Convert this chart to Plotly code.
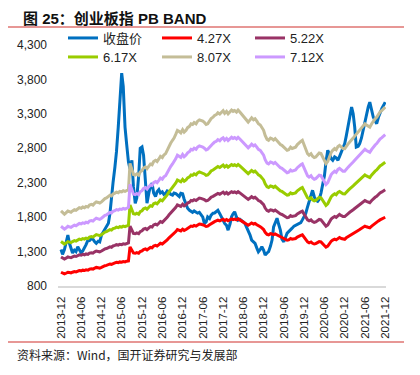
import plotly.graph_objects as go

# ---- data (semi-monthly: 1st and 15th of each month, 2013-12-01 .. 2021-12-01) ----
close = [
    1330, 1260, 1330, 1420, 1540, 1420, 1360, 1280, 1320, 1300, 1370, 1330,
    1280, 1310, 1350, 1400, 1467, 1460, 1491, 1480, 1442, 1420, 1450, 1440,
    1540, 1580, 1610, 1660, 1710, 1850, 2100, 2300, 2529, 2750, 3108, 3500,
    3891, 3700, 3108, 2870, 2600, 2500, 2626, 2239, 2000, 2080, 2400, 2800,
    2819, 2700, 2350, 2003, 2150, 2250, 2292, 2150, 2100, 2168, 2200, 2150,
    2168, 2130, 2147, 2180, 2168, 2130, 2119, 2150, 2143, 2119, 2100, 2147,
    2140, 2060, 2000, 1930, 1900, 1880, 1870, 1890, 1877, 1858, 1870, 1840,
    1800, 1708, 1730, 1804, 1780, 1830, 1858, 1860, 1880, 1900, 1850, 1804,
    1760, 1708, 1680, 1611, 1700, 1804, 1850, 1877, 1800, 1756, 1770, 1756,
    1730, 1708, 1650, 1611, 1540, 1467, 1440, 1419, 1350, 1297, 1330, 1370,
    1320, 1249, 1280, 1300, 1380, 1467, 1659, 1720, 1785, 1700, 1611, 1480,
    1442, 1500, 1568, 1590, 1611, 1640, 1670, 1684, 1690, 1708, 1720, 1760,
    1804, 1850, 1949, 2020, 2120, 2190, 2100, 2046, 2030, 2060, 2150, 2250,
    2400, 2600, 2771, 2720, 2650, 2626, 2674, 2660, 2626, 2680, 2750, 2790,
    2868, 2980, 3108, 3250, 3398, 3300, 3108, 2819, 2830, 2868, 2950, 3060,
    3150, 3302, 3400, 3471, 3350, 3253, 3200, 3157, 3250, 3326, 3380, 3420,
    3471,
]

# 4.27X PB band line
band_427 = [
    1000, 990, 975, 985, 1000, 995, 990, 1000, 1010, 1005, 1015, 1025,
    1020, 1030, 1025, 1035, 1030, 1045, 1050, 1045, 1060, 1070, 1065, 1060,
    1070, 1085, 1095, 1100, 1110, 1120, 1115, 1130, 1136, 1145, 1140, 1150,
    1146, 1155, 1150, 1160, 1165, 1366, 1320, 1280, 1275, 1285, 1275, 1300,
    1310, 1330, 1338, 1325, 1345, 1360, 1355, 1380, 1389, 1380, 1400, 1420,
    1410, 1430, 1441, 1470, 1500, 1520, 1543, 1560, 1590, 1619, 1610, 1600,
    1625, 1606, 1620, 1640, 1650, 1670, 1665, 1680, 1670, 1690, 1700, 1696,
    1690, 1680, 1665, 1670, 1690, 1710, 1720, 1734, 1740, 1755, 1745, 1760,
    1770, 1750, 1765, 1747, 1760, 1775, 1765, 1772, 1760, 1775, 1760, 1747,
    1730, 1710, 1700, 1683, 1700, 1715, 1700, 1708, 1690, 1670, 1660, 1644,
    1620, 1580, 1550, 1543, 1560, 1555, 1545, 1556, 1540, 1520, 1510, 1504,
    1490, 1475, 1466, 1470, 1490, 1480, 1485, 1490, 1510, 1525, 1535, 1543,
    1510, 1470, 1440, 1428, 1440, 1420, 1410, 1415, 1430, 1445, 1441, 1420,
    1390, 1364, 1380, 1420, 1450, 1466, 1480, 1470, 1495, 1504, 1490, 1480,
    1479, 1500, 1515, 1530, 1543, 1560, 1575, 1590, 1606, 1620, 1640, 1655,
    1670, 1660, 1650, 1644, 1670, 1690, 1708, 1720, 1745, 1760, 1772, 1785,
    1798,
]

multiples = [4.27, 5.22, 6.17, 8.07, 7.12]
band_names = ["4.27X", "5.22X", "6.17X", "8.07X", "7.12X"]
band_colors = ["#FF0000", "#993366", "#99CC00", "#C4BD97", "#CC99FF"]

y_ticks = [800, 1300, 1800, 2300, 2800, 3300, 3800, 4300]

dates = []
for yr in range(2013, 2022):
    for mo in range(1, 13):
        if (yr, mo) < (2013, 12):
            continue
        for d in (1, 15):
            dates.append(f"{yr}-{mo:02d}-{d:02d}")
dates = dates[:len(close)]
assert len(close) == len(band_427) == len(dates)

# the page places the figure 8px in from the window's top-left corner
OFF = 8
W, H = 420 - OFF, 375 - OFF
# plot area in window pixels: x 58..386, y 45..286
L, R, T, B = 58 - OFF, 420 - 386, 45 - OFF, 375 - 286
pw, ph = W - L - R, H - T - B


def px(x):  # window pixel -> paper x
    return (x - OFF - L) / pw


def py(y):  # window pixel -> paper y
    return (H - B - (y - OFF)) / ph


FONT = "Liberation Sans, Arial, Noto Sans CJK SC"

fig = go.Figure()
fig.add_trace(go.Scatter(x=dates, y=close, mode="lines", name="收盘价",
                         line=dict(color="#0070C0", width=3), legend="legend"))

legend_pos = {
    "收盘价": (63, 38),
    "4.27X": (157, 38),
    "5.22X": (250, 38),
    "6.17X": (63, 57),
    "8.07X": (157, 57),
    "7.12X": (250, 57),
}
legend_ids = ["legend2", "legend3", "legend4", "legend5", "legend6"]
for m, name, col, lid in zip(multiples, band_names, band_colors, legend_ids):
    vals = [v * m / 4.27 for v in band_427]
    fig.add_trace(go.Scatter(x=dates, y=vals, mode="lines", name=name,
                             line=dict(color=col, width=3), legend=lid))

legend_common = dict(orientation="h", xanchor="left", yanchor="middle",
                     bgcolor="rgba(0,0,0,0)", borderwidth=0,
                     font=dict(family=FONT, size=13, color="#222"),
                     itemwidth=30, tracegroupgap=0)
layout_legends = {}
for lid, nm in zip(["legend"] + legend_ids, ["收盘价"] + band_names):
    x0, y0 = legend_pos[nm]
    layout_legends[lid] = dict(legend_common, x=px(x0), y=py(y0))

fig.update_layout(
    width=W, height=H,
    margin=dict(l=L, r=R, t=T, b=B, autoexpand=False),
    paper_bgcolor="white", plot_bgcolor="white",
    showlegend=True,
    font=dict(family=FONT, size=12, color="#222"),
    xaxis=dict(
        type="date",
        range=["2013-11-04", "2021-12-08"],
        tick0="2013-12-01", dtick="M6", tickformat="%Y-%m",
        tickangle=-90, tickfont=dict(size=11.5, color="#222"),
        showgrid=False, zeroline=False, automargin=False,
        showline=True, linecolor="#D9D9D9", linewidth=2,
        ticks="", ticklabelstandoff=4,
    ),
    yaxis=dict(
        range=[800, 4300], tickvals=y_ticks, tickformat=",",
        tickfont=dict(size=12, color="#222"), automargin=False,
        showgrid=False, zeroline=False, showline=False, ticks="",
        ticklabelstandoff=10,
    ),
    **layout_legends,
)

fig.add_annotation(xref="paper", yref="paper", x=px(22), y=py(8.5), xanchor="left", yanchor="top",
                   text="<b>图 25：创业板指 PB BAND</b>", showarrow=False, borderpad=0,
                   font=dict(family="Liberation Sans, Noto Sans CJK SC", size=15, color="#111"))
fig.add_shape(type="line", xref="paper", yref="paper", x0=px(OFF), x1=px(404), y0=py(27), y1=py(27),
              line=dict(color="#D0312D", width=1.2))
fig.add_shape(type="line", xref="paper", yref="paper", x0=px(OFF), x1=px(404), y0=py(342), y1=py(342),
              line=dict(color="#D0312D", width=1.2))
fig.add_annotation(xref="paper", yref="paper", x=px(15), y=py(355), xanchor="left", yanchor="middle",
                   text="资料来源：Wind，国开证券研究与发展部", showarrow=False,
                   font=dict(family="Noto Sans CJK SC, Liberation Serif", size=12, color="#222"))

fig.write_html("out.html")
